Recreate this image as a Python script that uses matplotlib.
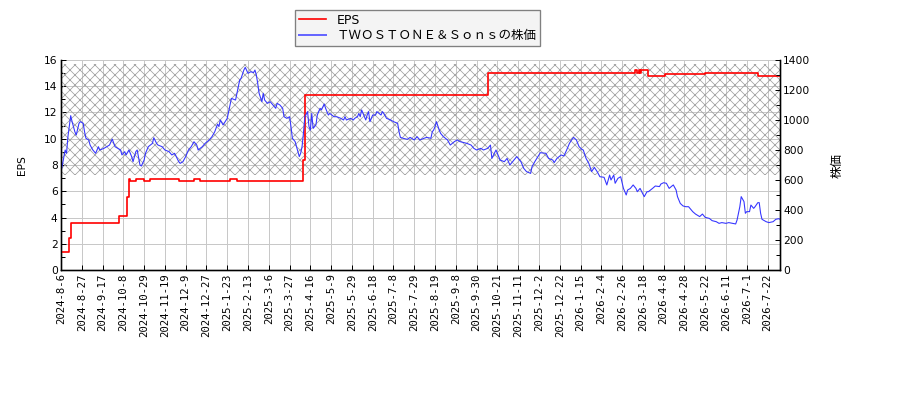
import matplotlib
matplotlib.use("Agg")
import matplotlib.pyplot as plt
from matplotlib.ticker import MultipleLocator

plt.rcParams['font.family'] = ['DejaVu Sans', 'Noto Sans CJK JP']
plt.rcParams['hatch.linewidth'] = 0.45

# tick labels (every 15 trading days)
tick_labels = ["2024-8-6", "2024-8-27", "2024-9-17", "2024-10-8", "2024-10-29",
               "2024-11-19", "2024-12-9", "2024-12-27", "2025-1-23", "2025-2-13",
               "2025-3-6", "2025-3-27", "2025-4-16", "2025-5-9", "2025-5-29",
               "2025-6-18", "2025-7-8", "2025-7-29", "2025-8-19", "2025-9-8",
               "2025-9-30", "2025-10-21", "2025-11-11", "2025-12-2", "2025-12-22",
               "2026-1-15", "2026-2-4", "2026-2-26", "2026-3-18", "2026-4-8",
               "2026-4-28", "2026-5-22", "2026-6-11", "2026-7-1", "2026-7-22"]
last_day = 519

# EPS: trading day where each level starts, and the level
eps_day = [0, 6, 7, 42, 48, 49, 50, 54, 60, 64, 85, 96, 100, 122, 127, 175, 176,
           308, 414, 416, 417, 418, 419, 424, 436, 465, 503]
eps_val = [1.37, 2.45, 3.55, 4.11, 5.6, 6.91, 6.76, 6.91, 6.76, 6.91, 6.76, 6.91,
           6.76, 6.91, 6.76, 8.4, 13.33, 15.03, 15.2, 15.03, 15.2, 15.03, 15.2,
           14.78, 14.91, 14.98, 14.78]

# share price (trading day, yen)
price_day = [0, 1, 3, 4, 5, 7, 8, 10, 11, 13, 14, 16, 17, 18, 20, 21, 23, 25, 27, 28,
             31, 33, 35, 37, 39, 41, 43, 44, 46, 47, 49, 51, 52, 54, 55, 57, 58, 60,
             61, 63, 66, 67, 69, 70, 73, 75, 78, 80, 82, 85, 86, 88, 90, 92, 94, 96,
             98, 99, 102, 104, 107, 109, 111, 113, 114, 115, 117, 120, 121, 123, 126,
             127, 129, 130, 132, 133, 135, 137, 139, 140, 141, 142, 143, 145, 146,
             147, 149, 151, 153, 155, 156, 158, 160, 161, 163, 165, 166, 167, 169,
             170, 172, 173, 174,
             175, 176, 178, 179, 180, 181, 182, 184, 185, 186, 187, 188, 190, 191,
             192, 193, 194, 197, 199, 202, 204, 205, 206, 209, 211, 212, 214, 215,
             216, 217, 218, 220, 221, 222, 223, 225, 227, 228, 231, 232, 233, 235,
             238, 240, 243, 244, 245, 247, 250, 252, 255, 257, 259, 262, 264, 267,
             268, 269, 270, 271, 273, 274, 276, 279, 281, 284, 286, 288, 291, 293,
             296, 298, 300, 303, 305, 308, 310, 311, 314, 315, 317, 320, 322, 324,
             327, 329, 332, 334, 336, 339, 340, 342, 345,
             346, 350, 352, 355, 356, 358, 361, 363, 365, 367, 369, 370, 372, 374,
             376, 377, 379, 381, 383, 385, 387, 389, 392, 394, 396, 397, 399, 400,
             402, 404, 406, 408, 409, 411, 413, 415, 416, 418, 421, 423, 424, 427,
             429, 432,
             433, 435, 437, 439, 441, 442, 444, 445, 447, 449, 451, 453, 456, 458,
             461, 463, 465, 468, 470, 473, 475, 477, 480, 482, 485, 487, 488, 490,
             491, 493, 494, 495, 497, 498, 500, 501, 503, 504, 505, 506, 509, 511,
             514, 516, 518, 519]
price = [655, 700, 800, 778, 889, 1029, 989, 922, 900, 978, 989, 978, 922, 878, 867,
         833, 800, 778, 822, 800, 811, 822, 833, 873, 822, 811, 800, 767, 789, 767,
         800, 756, 722, 789, 800, 700, 693, 733, 778, 822, 844, 882, 844, 833, 822,
         800, 789, 767, 778, 722, 711, 722, 756, 800, 822, 855, 833, 800, 822, 844,
         867, 889, 922, 973, 956, 1000, 967, 1011, 1056, 1144, 1133, 1178, 1267, 1278,
         1333, 1351, 1311, 1322, 1316, 1333, 1300, 1244, 1178, 1122, 1178, 1133, 1111,
         1122, 1100, 1078, 1111, 1100, 1078, 1022, 1011, 1022, 956, 878, 856, 822,
         756, 778, 822,
         911, 1022, 1056, 956, 933, 1044, 944, 967, 1033, 1056, 1078, 1067, 1107,
         1078, 1056, 1033, 1044, 1022, 1022, 1011, 1000, 1022, 1000, 1011, 1000, 1011,
         1022, 1044, 1022, 1067, 1044, 1000, 1033, 1056, 989, 1033, 1033, 1056, 1033,
         1056, 1044, 1011, 1000, 989, 978, 922, 884, 878, 871, 884, 867, 889, 867, 878,
         884, 878, 922, 933, 956, 989, 933, 911, 889, 867, 833, 856, 867, 856, 849,
         844, 833, 811, 800, 811, 800, 811, 833, 744, 800, 778, 733, 722, 744, 700,
         733, 756, 722, 678, 656, 644, 689, 722, 767,
         782, 778, 744, 733, 716, 744, 767, 760, 800, 844, 873, 884, 867, 822, 804,
         800, 744, 711, 656, 684, 656, 622, 618, 567, 633, 600, 633, 578, 611, 622,
         544, 500, 533, 544, 567, 544, 522, 544, 489, 522, 522, 544, 560, 556,
         573, 582, 578, 544, 560, 567, 533, 489, 444, 427, 422, 422, 389, 373, 356,
         373, 351, 344, 329, 322, 311, 316, 311, 316, 311, 307, 333, 422, 489, 456,
         378, 389, 389, 433, 411, 422, 449, 449, 378, 338, 322, 316, 322, 338, 342,
         338]

# shaded band (EPS axis units)
band_low = 7.24
band_high = 15.7

DPI = 120
fig = plt.figure(figsize=(900 / DPI, 400 / DPI), dpi=DPI)
ax = fig.add_subplot(111)
fig.subplots_adjust(left=61 / 900, right=780 / 900, bottom=1 - 270 / 400, top=1 - 60 / 400)
ax2 = ax.twinx()

ax.fill_between([0, last_day], band_low, band_high, facecolor='none',
                edgecolor='#a0a0a0', hatch='xxxx', linewidth=0, zorder=1)

eps_x = eps_day + [last_day]
eps_y = eps_val + [eps_val[-1]]
l1, = ax.plot(eps_x, eps_y, drawstyle='steps-post', color='#ff0000', lw=1.0,
              label='EPS', zorder=3)
l2, = ax2.plot(price_day, price, color='#3535ff', lw=0.65,
               label='ＴＷＯＳＴＯＮＥ＆Ｓｏｎｓの株価')

ax.set_xlim(0, last_day)
ax.set_ylim(0, 16)
ax2.set_ylim(0, 1400)
ax.yaxis.set_major_locator(MultipleLocator(2))
ax.yaxis.set_minor_locator(MultipleLocator(1))
ax2.yaxis.set_major_locator(MultipleLocator(200))
ax2.yaxis.set_minor_locator(MultipleLocator(100))

ax.set_xticks(range(0, 15 * len(tick_labels), 15))
ax.set_xticklabels(tick_labels, rotation=90, fontsize=7.3, family='DejaVu Sans Mono')

ax.grid(True, color='#c8c8c8', lw=0.6)
ax.set_axisbelow(True)

for a in (ax, ax2):
    a.tick_params(direction='in', length=3, width=0.6, labelsize=6.4, pad=2)
    a.tick_params(which='minor', direction='in', length=2.5, width=0.6)
    a.spines['top'].set_visible(False)
    for s in a.spines.values():
        s.set_linewidth(0.8)
ax.tick_params(axis='x', pad=2)

ax.set_ylabel('EPS', fontsize=6.4, labelpad=10)
ax2.set_ylabel('株価', fontsize=7.5, family=['Noto Sans CJK JP'], labelpad=12)

leg = fig.legend(handles=[l1, l2], loc='upper center',
                 bbox_to_anchor=(417.5 / 900, 1 - 10 / 400), borderaxespad=0,
                 prop={'family': ['DejaVu Sans', 'Noto Sans CJK JP'], 'size': 7.5},
                 fancybox=False, edgecolor='#808080', facecolor='#f4f4f4',
                 framealpha=1, handlelength=2.2, borderpad=0.3, labelspacing=0.2)
leg.get_frame().set_linewidth(0.8)
leg.get_lines()[1].set_linewidth(1.2)
leg.get_lines()[1].set_color('#6666ff')

fig.savefig('out.png', dpi=DPI)
